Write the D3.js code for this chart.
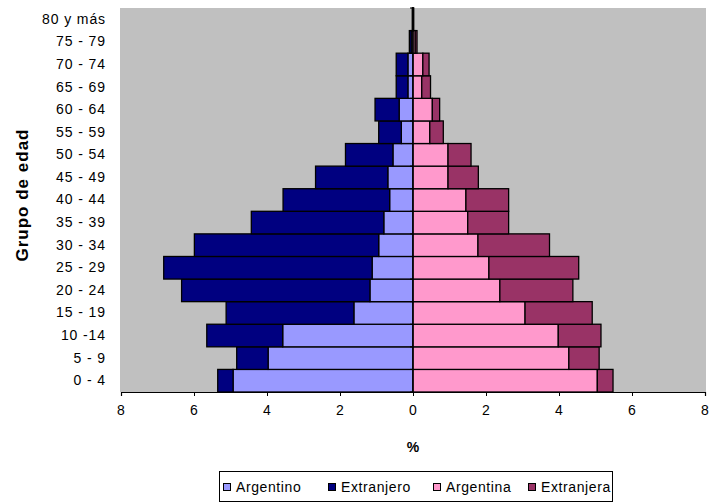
<!DOCTYPE html>
<html>
<head>
<meta charset="utf-8">
<script src="https://cdn.jsdelivr.net/npm/d3@7"></script>
<style>
  html, body { margin: 0; padding: 0; background: #ffffff; }
  svg { display: block; }
  text { font-family: "Liberation Sans", Arial, sans-serif; fill: #000; }
</style>
</head>
<body>
<svg id="chart" width="710" height="504"></svg>
<script>
// Age groups, bottom to top
const categories = ["0 - 4","5 - 9","10 -14","15 - 19","20 - 24","25 - 29","30 - 34","35 - 39","40 - 44","45 - 49","50 - 54","55 - 59","60 - 64","65 - 69","70 - 74","75 - 79","80 y más"];
// Men (plotted to the left)
const argentino  = [4.93, 3.97, 3.57, 1.62, 1.18, 1.12, 0.94, 0.80, 0.64, 0.69, 0.55, 0.32, 0.38, 0.14, 0.14, 0.05, 0.01];
const extranjero = [0.42, 0.86, 2.08, 3.50, 5.16, 5.71, 5.05, 3.63, 2.92, 1.98, 1.30, 0.62, 0.66, 0.32, 0.32, 0.05, 0.01];
// Women (plotted to the right)
const argentina  = [5.05, 4.27, 3.98, 3.07, 2.38, 2.08, 1.78, 1.50, 1.45, 0.96, 0.96, 0.46, 0.53, 0.24, 0.27, 0.06, 0.01];
const extranjera = [0.43, 0.83, 1.17, 1.84, 2.00, 2.46, 1.96, 1.12, 1.17, 0.83, 0.63, 0.37, 0.20, 0.24, 0.17, 0.05, 0.01];
const seriesNames = ["Argentino", "Extranjero", "Argentina", "Extranjera"];
const xTicks = [-8, -6, -4, -2, 0, 2, 4, 6, 8];

const colors = { Argentino: "#9999ff", Extranjero: "#000080", Argentina: "#ff99cc", Extranjera: "#993366" };

const svg = d3.select("#chart");
const plot = { left: 121, right: 705, top: 8, bottom: 392 };

const x = d3.scaleLinear().domain([-8, 8]).range([plot.left, plot.right]);
const y = d3.scaleBand().domain(categories.slice().reverse()).range([plot.top, plot.bottom]).padding(0);

// plot background
svg.append("rect")
  .attr("x", plot.left - 1).attr("y", plot.top)
  .attr("width", plot.right - plot.left + 2).attr("height", plot.bottom - plot.top)
  .attr("fill", "#c0c0c0");

// build stacked segments
const rows = categories.map((c, i) => ({
  cat: c,
  segs: [
    { s: "Argentino", x0: 0, x1: -argentino[i] },
    { s: "Extranjero", x0: -argentino[i], x1: -(argentino[i] + extranjero[i]) },
    { s: "Argentina", x0: 0, x1: argentina[i] },
    { s: "Extranjera", x0: argentina[i], x1: argentina[i] + extranjera[i] }
  ]
}));

const g = svg.append("g");
rows.forEach(r => {
  g.selectAll(null).data(r.segs).enter().append("rect")
    .attr("x", d => Math.min(x(d.x0), x(d.x1)))
    .attr("y", y(r.cat))
    .attr("width", d => Math.abs(x(d.x1) - x(d.x0)))
    .attr("height", y.bandwidth())
    .attr("fill", d => colors[d.s])
    .attr("stroke", "#000")
    .attr("stroke-width", 1.3);
});

// x axis
const xAxis = d3.axisBottom(x).tickValues(xTicks).tickFormat(d => Math.abs(d)).tickSize(4).tickPadding(9);
const xg = svg.append("g").attr("transform", `translate(0,${plot.bottom})`).call(xAxis);
xg.select(".domain").attr("stroke", "#000").attr("stroke-width", 1.2);
xg.selectAll(".tick line").attr("stroke", "#000");
xg.selectAll("text").attr("font-size", 14).style("letter-spacing", "1px").attr("font-family", "Liberation Sans, Arial, sans-serif");

// vertical category axis at zero with boundary ticks
svg.append("line")
  .attr("x1", x(0)).attr("x2", x(0))
  .attr("y1", plot.top).attr("y2", plot.bottom)
  .attr("stroke", "#000").attr("stroke-width", 1.2);
const bounds = y.domain().map(c => y(c)).concat([plot.bottom]);
svg.selectAll(null).data(bounds).enter().append("line")
  .attr("x1", x(0) - 3).attr("x2", x(0))
  .attr("y1", d => d).attr("y2", d => d)
  .attr("stroke", "#000").attr("stroke-width", 1);

// category labels
const yAxis = d3.axisLeft(y).tickSize(0).tickPadding(15);
const yg = svg.append("g").attr("transform", `translate(${plot.left},0)`).call(yAxis);
yg.select(".domain").remove();
yg.selectAll("text").attr("font-size", 14).style("letter-spacing", "0.9px").attr("font-family", "Liberation Sans, Arial, sans-serif");

// axis titles
svg.append("text")
  .attr("x", x(0)).attr("y", 452)
  .attr("text-anchor", "middle")
  .attr("font-size", 14).attr("font-weight", "bold")
  .text("%");

svg.append("text")
  .attr("transform", `translate(28,${(plot.top + plot.bottom) / 2 - 5}) rotate(-90)`)
  .attr("text-anchor", "middle")
  .attr("font-size", 17).attr("font-weight", "bold")
  .style("letter-spacing", "1px")
  .text("Grupo de edad");

// legend
const lg = svg.append("g");
lg.append("rect").attr("x", 219.5).attr("y", 471.5).attr("width", 393).attr("height", 30)
  .attr("fill", "#fff").attr("stroke", "#000").attr("stroke-width", 1);
const legendX = [223, 328, 433, 528];
seriesNames.forEach((s, i) => {
  lg.append("rect").attr("x", legendX[i] + 0.5).attr("y", 483.5).attr("width", 7).attr("height", 7)
    .attr("fill", colors[s]).attr("stroke", "#000").attr("stroke-width", 1);
  lg.append("text").attr("x", legendX[i] + 13).attr("y", 492)
    .attr("font-size", 14).style("letter-spacing", "0.6px")
    .text(s);
});
</script>
</body>
</html>
